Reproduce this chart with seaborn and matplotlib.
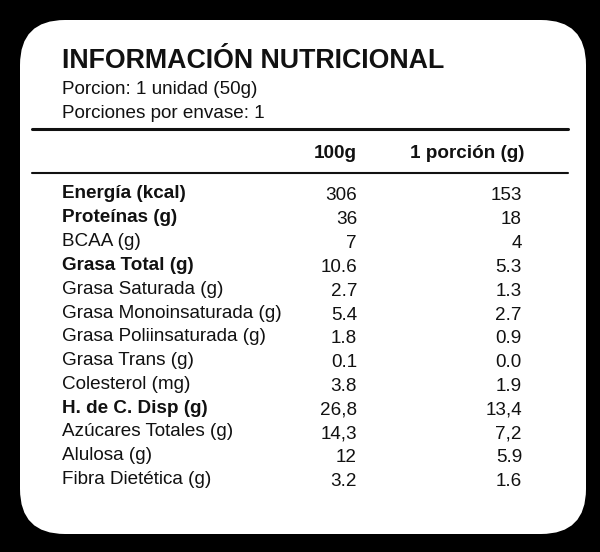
import matplotlib
matplotlib.use("Agg")
import matplotlib.pyplot as plt
from matplotlib.patches import FancyBboxPatch
import seaborn as sns

sns.set_theme(style="white", font="Liberation Sans")

title = "INFORMACIÓN NUTRICIONAL"
subtitles = ["Porcion: 1 unidad (50g)", "Porciones por envase: 1"]
headers = ["100g", "1 porción (g)"]
nutrients = ["Energía (kcal)", "Proteínas (g)", "BCAA (g)", "Grasa Total (g)",
             "Grasa Saturada (g)", "Grasa Monoinsaturada (g)", "Grasa Poliinsaturada (g)",
             "Grasa Trans (g)", "Colesterol (mg)", "H. de C. Disp (g)",
             "Azúcares Totales (g)", "Alulosa (g)", "Fibra Dietética (g)"]
per100 = ["306", "36", "7", "10.6", "2.7", "5.4", "1.8", "0.1", "3.8", "26,8", "14,3", "12", "3.2"]
perportion = ["153", "18", "4", "5.3", "1.3", "2.7", "0.9", "0.0", "1.9", "13,4", "7,2", "5.9", "1.6"]
bold = [True, True, False, True, False, False, False, False, False, True, False, False, False]

fs = 13.6
fig = plt.figure(figsize=(6, 5.52), dpi=100, facecolor="black")
ax = fig.add_axes([0, 0, 1, 1])
ax.set_xlim(0, 600)
ax.set_ylim(552, 0)
ax.axis("off")
ax.set_facecolor("black")
ax.add_patch(FancyBboxPatch((20, 20), 566, 514, boxstyle="round,pad=0,rounding_size=45",
                            fc="white", ec="none"))

ax.text(62, 61, title, fontsize=19.3, fontweight="bold", va="center", ha="left", color="#111")
for i, s in enumerate(subtitles):
    ax.text(62, 90 + i * 23, s, fontsize=fs, va="center", ha="left", color="#111")
ax.plot([32, 568], [129, 129], color="#111", lw=2.2)
ax.plot([32, 568], [173, 173], color="#111", lw=1.5)
ax.text(357, 153, headers[0], fontsize=fs, fontweight="bold", ha="right", va="center", color="#111")
ax.text(525, 153, headers[1], fontsize=fs, fontweight="bold", ha="right", va="center", color="#111")

for i, (n, a, b, bo) in enumerate(zip(nutrients, per100, perportion, bold)):
    y = 194 + i * 23.8
    ax.text(62, y, n, fontsize=fs, fontweight="bold" if bo else "normal", ha="left", va="center", color="#111")
    ax.text(357, y + 2, a, fontsize=fs, ha="right", va="center", color="#111")
    ax.text(522, y + 2, b, fontsize=fs, ha="right", va="center", color="#111")

fig.savefig("out.png", dpi=100, facecolor="black")
